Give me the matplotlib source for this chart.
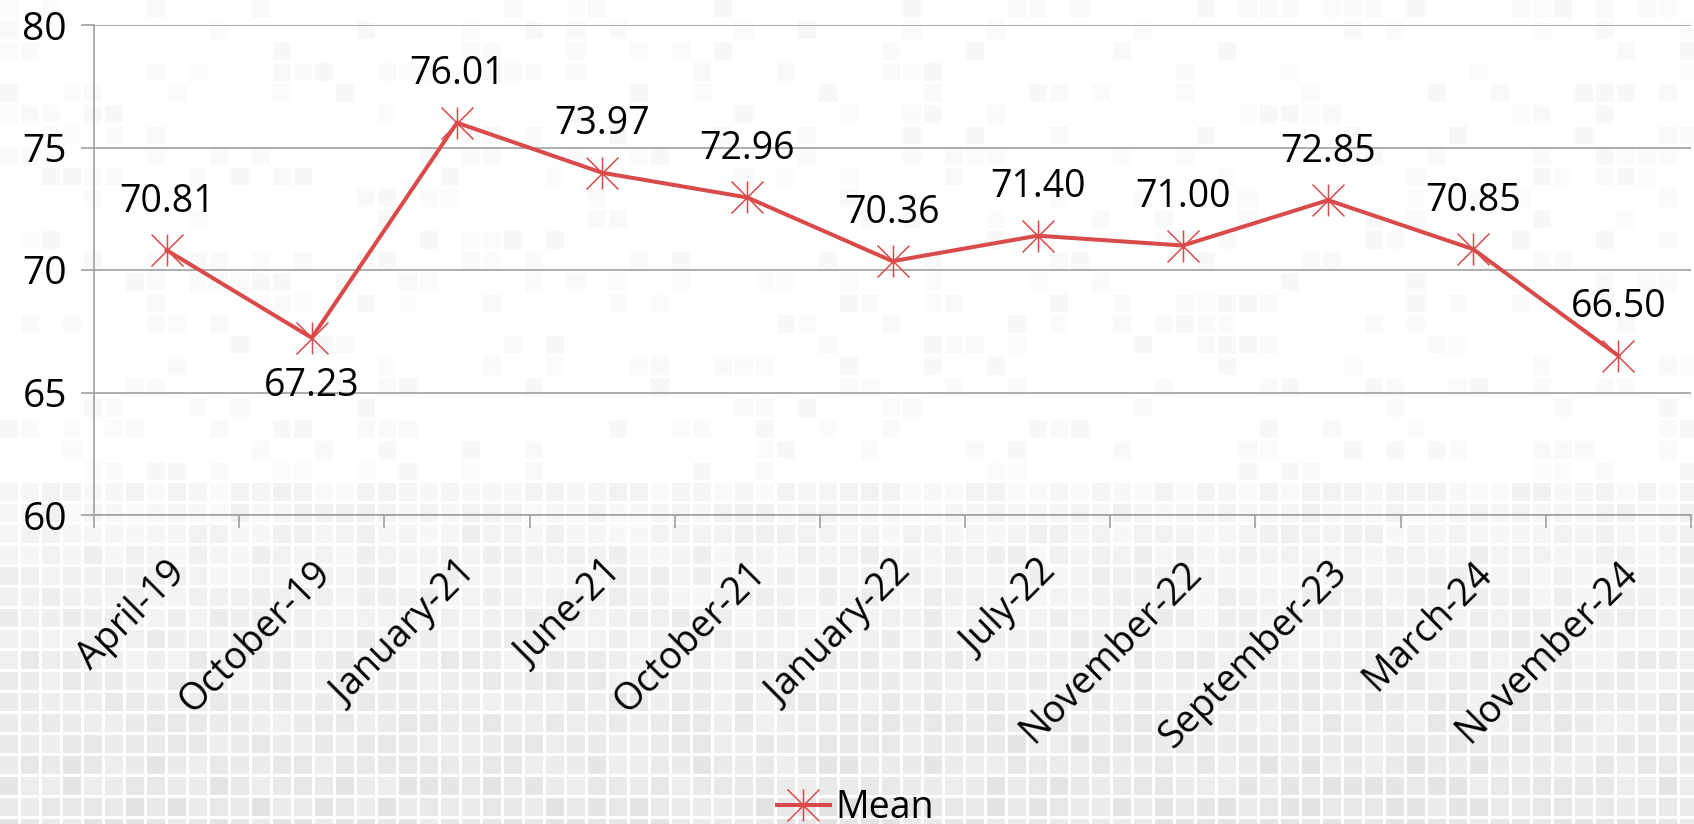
import numpy as np
import matplotlib
matplotlib.use("Agg")
import matplotlib.pyplot as plt
from matplotlib.path import Path

plt.rcParams['font.family'] = ['Open Sans', 'DejaVu Sans']

periods = ['April-19', 'October-19', 'January-21', 'June-21', 'October-21',
           'January-22', 'July-22', 'November-22', 'September-23', 'March-24',
           'November-24']
mean_vals = [70.81, 67.23, 76.01, 73.97, 72.96, 70.36, 71.40, 71.00, 72.85, 70.85, 66.50]
label_below = [False, True, False, False, False, False, False, False, False, False, False]

red = '#D94B4B'
grey = '#A0A0A0'

W, H = 1694, 824
fig = plt.figure(figsize=(W / 100, H / 100), dpi=100)

# decorative tile background
bg = np.full((H, W), 255.0)
pitch, gap = 21, 3
for r in range(H // pitch + 1):
    t = r * pitch / H
    for c in range(W // pitch + 1):
        h = (np.sin(c * 12.9898 + r * 78.233) * 43758.5453) % 1.0
        if t < 0.58:
            if h > 0.25:
                continue
            shade = 251 - 4 * h / 0.25
        else:
            k = (t - 0.58) / 0.42
            shade = 250 - 15 * k - 9 * h
        y0, x0 = r * pitch, c * pitch
        bg[y0:y0 + pitch - gap, x0:x0 + pitch - gap] = shade
bax = fig.add_axes([0, 0, 1, 1], zorder=-10)
bax.imshow(bg, cmap='gray', vmin=0, vmax=255, aspect='auto', interpolation='nearest')
bax.axis('off')

ax = fig.add_axes([94 / W, 1 - 515 / H, (1691 - 94) / W, (515 - 25) / H])
ax.set_facecolor('none')

star = Path([(0, -1), (0, 1), (-1, -1), (1, 1), (-1, 1), (1, -1)],
            [Path.MOVETO, Path.LINETO, Path.MOVETO, Path.LINETO, Path.MOVETO, Path.LINETO])

x = np.arange(len(periods))
ax.plot(x, mean_vals, color=red, lw=2.9, marker=star, markersize=23,
        markeredgewidth=1.1, markeredgecolor=red, label='Mean', zorder=3)

for xi, v, below in zip(x, mean_vals, label_below):
    ax.annotate(f'{v:.2f}', (xi, v), xytext=(0, -35 if below else 35),
                textcoords='offset points', ha='center', va='center', fontsize=27)

ax.set_xlim(-0.5, len(periods) - 0.5)
ax.set_ylim(60, 80)
ax.set_yticks([60, 65, 70, 75, 80])
ax.yaxis.grid(True, color=grey, lw=1.2)
ax.set_axisbelow(True)

ax.set_xticks(x)
ax.set_xticklabels(periods, rotation=45, ha='right', rotation_mode='anchor', fontsize=27)
ax.set_xticks(np.arange(len(periods) + 1) - 0.5, minor=True)
ax.tick_params(axis='x', which='major', length=0, pad=28)
ax.tick_params(axis='x', which='minor', length=9.5, color=grey, width=1.2)
ax.tick_params(axis='y', length=9.5, color=grey, width=1.2, labelsize=28, pad=10)

for s in ['top', 'right']:
    ax.spines[s].set_visible(False)
for s in ['left', 'bottom']:
    ax.spines[s].set_color(grey)
    ax.spines[s].set_linewidth(1.2)

fig.legend(loc='lower center', bbox_to_anchor=(0.505, -0.045), frameon=False,
           fontsize=27, handlelength=1.4, handletextpad=0.15)

fig.savefig('out.png', dpi=100)
